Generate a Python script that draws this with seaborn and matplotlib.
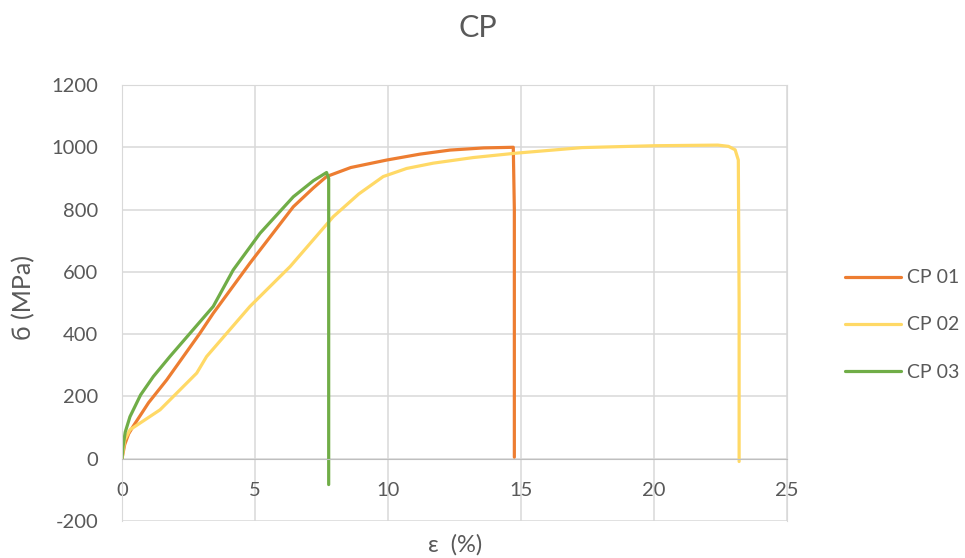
import pandas as pd
import seaborn as sns
import matplotlib.pyplot as plt

# strain (%) and stress (MPa)
cp01_x = [0.0, 0.1, 0.25, 0.42, 1.0, 1.68, 2.93, 3.43, 4.81, 6.44, 7.2, 7.69, 8.6, 9.95, 11.2, 12.33, 13.6, 14.71, 14.75, 14.75]
cp01_y = [0, 45, 80, 104, 180, 253, 403, 467, 628, 809, 870, 906, 935, 959, 978, 991, 998, 1000, 800, 5]

cp02_x = [0.0, 0.1, 0.3, 1.43, 2.81, 3.18, 4.81, 6.32, 7.94, 8.9, 9.82, 10.7, 11.7, 13.2, 14.8, 17.3, 20.0, 22.4, 22.8, 23.05, 23.17, 23.2, 23.2]
cp02_y = [0, 60, 93, 157, 275, 328, 489, 617, 777, 850, 906, 932, 949, 967, 981, 999, 1005, 1007, 1003, 992, 959, 500, -9]

cp03_x = [0.0, 0.04, 0.12, 0.3, 0.7, 1.18, 1.8, 3.43, 4.18, 5.19, 6.44, 7.2, 7.69, 7.77, 7.77]
cp03_y = [0, 40, 85, 135, 205, 264, 328, 489, 606, 724, 841, 893, 919, 900, -83]

series = ['CP 01', 'CP 02', 'CP 03']
colors = ['#ED7D31', '#FFD966', '#70AD47']

df = pd.concat([
    pd.DataFrame({'strain': cp01_x, 'stress': cp01_y, 'CP': 'CP 01'}),
    pd.DataFrame({'strain': cp02_x, 'stress': cp02_y, 'CP': 'CP 02'}),
    pd.DataFrame({'strain': cp03_x, 'stress': cp03_y, 'CP': 'CP 03'}),
])

sns.set_style("white")
plt.rcParams['font.family'] = ['Lato', 'DejaVu Sans']
plt.rcParams['axes.unicode_minus'] = False
grey = '#595959'

fig = plt.figure(figsize=(9.65, 5.58), dpi=100)
ax = fig.add_axes([122 / 965, 1 - 521 / 558, (787 - 122) / 965, (521 - 85) / 558])

sns.lineplot(data=df, x='strain', y='stress', hue='CP', hue_order=series,
             palette=colors, sort=False, estimator=None, linewidth=2.3, ax=ax)

ax.set_xlim(0, 25)
ax.set_ylim(-200, 1200)
ax.set_xticks(range(0, 26, 5))
ax.set_yticks(range(-200, 1201, 200))
ax.grid(True, color='#D9D9D9', linewidth=1.1)
ax.set_axisbelow(True)
for s in ['top', 'right', 'left']:
    ax.spines[s].set_color('#D9D9D9')
ax.spines['bottom'].set_position(('data', 0))
ax.spines['bottom'].set_color('#BFBFBF')
ax.tick_params(axis='both', length=0, labelsize=14.5, labelcolor=grey)
ax.tick_params(axis='x', pad=17)
ax.tick_params(axis='y', pad=17)
ax.set_xlabel('')
ax.set_ylabel('')

fig.text(455 / 965, 1 - 545 / 558, 'ε  (%)', ha='center', va='center', fontsize=17, color=grey)
fig.text(24 / 965, 1 - 298 / 558, 'б (MPa)', ha='center', va='center', rotation=90, fontsize=18, color=grey)
fig.text(478 / 965, 1 - 28 / 558, 'CP', ha='center', va='center', fontsize=22, color=grey)

ax.legend(loc='center left', bbox_to_anchor=(845 / 965, 1 - 325 / 558), bbox_transform=fig.transFigure,
          frameon=False, fontsize=14, labelcolor=grey, handlelength=2.9, handletextpad=0.3,
          labelspacing=1.55, borderpad=0, borderaxespad=0, title=None)

fig.savefig('out.png', dpi=100)
